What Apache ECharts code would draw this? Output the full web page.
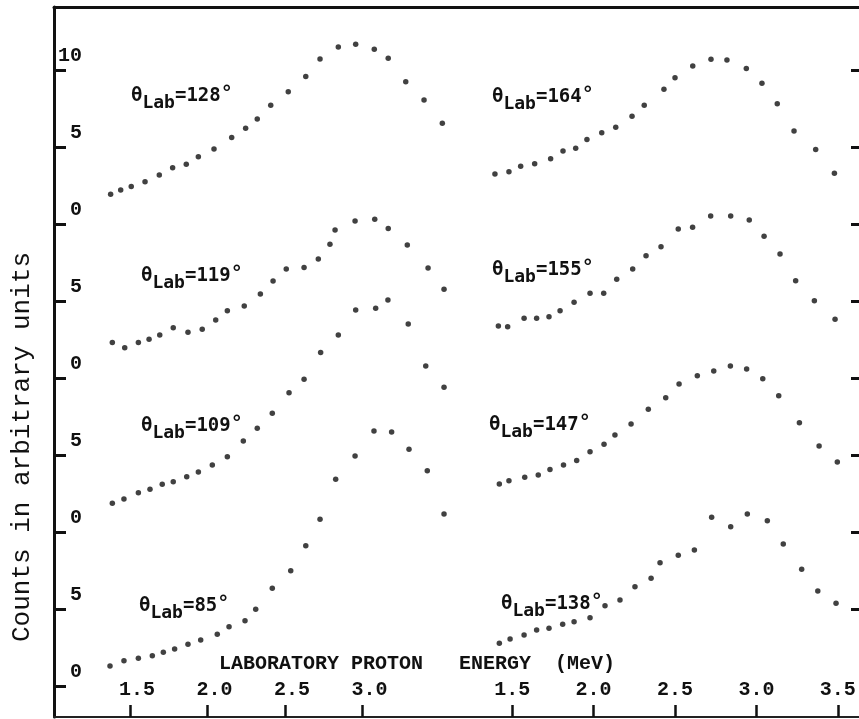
<!DOCTYPE html>
<html>
<head>
<meta charset="utf-8">
<script src="https://cdn.jsdelivr.net/npm/echarts@6/dist/echarts.min.js"></script>
<style>
  html, body { margin: 0; padding: 0; background: #ffffff; }
  #chart { width: 859px; height: 719px; }
</style>
</head>
<body>
<div id="chart"></div>
<script>
// Proton spectra: laboratory energy (MeV) and counts (arbitrary units) per angle.
const e85  = [1.371,1.461,1.554,1.644,1.715,1.788,1.874,1.956,2.063,2.139,2.242,2.311,2.418,2.537,2.634,2.726,2.827,2.952,3.074,3.188,3.300,3.418,3.526];
const c85  = [1.31,1.66,1.81,1.98,2.20,2.42,2.72,3.00,3.37,3.86,4.25,4.99,6.36,7.50,9.12,10.84,13.44,14.95,16.57,16.51,15.38,13.99,11.18];

const e109 = [1.386,1.461,1.554,1.629,1.708,1.779,1.866,1.941,2.031,2.128,2.231,2.321,2.418,2.526,2.623,2.730,2.844,2.956,3.085,3.164,3.295,3.408,3.526];
const c109 = [1.88,2.16,2.56,2.79,3.11,3.28,3.60,3.91,4.36,4.90,5.92,6.75,7.72,9.06,9.93,11.66,12.81,14.43,14.54,15.08,13.52,10.79,9.41];

const e119 = [1.386,1.466,1.554,1.623,1.692,1.779,1.874,1.966,2.053,2.128,2.237,2.341,2.423,2.508,2.623,2.715,2.790,2.823,2.952,3.079,3.166,3.289,3.423,3.526];
const c119 = [2.31,1.98,2.31,2.53,2.81,3.28,2.98,3.18,3.78,4.38,4.69,5.47,6.31,7.09,7.18,7.74,8.69,9.62,10.21,10.32,9.71,8.65,7.16,5.77];

const e128 = [1.375,1.440,1.508,1.597,1.689,1.775,1.863,1.941,2.042,2.156,2.246,2.321,2.408,2.521,2.634,2.726,2.844,2.956,3.076,3.166,3.279,3.397,3.515];
const c128 = [1.94,2.22,2.44,2.76,3.19,3.67,3.89,4.38,4.88,5.62,6.23,6.83,7.72,8.60,9.58,10.73,11.51,11.68,11.36,10.77,9.25,8.06,6.55];

const e138 = [1.421,1.487,1.573,1.650,1.726,1.810,1.880,1.978,2.070,2.162,2.254,2.353,2.408,2.520,2.619,2.725,2.842,2.944,3.067,3.165,3.278,3.377,3.489];
const c138 = [2.79,3.06,3.32,3.65,3.76,4.02,4.19,4.45,5.23,5.60,6.46,7.01,8.02,8.50,8.84,10.97,10.36,11.18,10.75,9.23,7.59,6.18,5.38];

const e147 = [1.421,1.480,1.577,1.660,1.732,1.815,1.896,1.978,2.064,2.131,2.230,2.336,2.443,2.525,2.637,2.738,2.840,2.940,3.039,3.137,3.264,3.385,3.497];
const c147 = [3.13,3.34,3.56,3.71,4.07,4.36,4.66,5.23,5.71,6.31,7.03,7.98,8.73,9.62,10.16,10.47,10.79,10.60,9.97,8.86,7.11,5.60,4.56];

const e155 = [1.415,1.472,1.573,1.650,1.726,1.794,1.880,1.978,2.062,2.142,2.240,2.322,2.414,2.520,2.608,2.719,2.842,2.956,3.047,3.145,3.241,3.356,3.483];
const c155 = [3.39,3.34,3.89,3.89,3.99,4.38,4.93,5.51,5.51,6.42,7.09,7.95,8.54,9.68,9.80,10.53,10.53,10.27,9.21,8.06,6.33,5.03,3.82];

const e164 = [1.394,1.480,1.552,1.638,1.736,1.812,1.890,1.959,2.050,2.136,2.236,2.311,2.432,2.500,2.609,2.721,2.819,2.938,3.034,3.128,3.231,3.364,3.479];
const c164 = [3.26,3.41,3.76,3.93,4.25,4.75,4.93,5.49,5.94,6.29,7.01,7.72,8.76,9.51,10.27,10.71,10.66,10.10,9.15,7.81,6.05,4.84,3.31];

// Angles shown in each column, and the zero of each spectrum on the stacked count axis.
const leftAngles  = [85, 109, 119, 128];
const rightAngles = [138, 147, 155, 164];
const baseline = { 85: 0, 109: 10, 119: 20, 128: 30, 138: 0, 147: 10, 155: 20, 164: 30 };

// Tick positions and labels.
const yTicks       = [0, 5, 10, 15, 20, 25, 30, 35, 40];
const yTickLabels  = ['0', '5', '0', '5', '0', '5', '0', '5', '10'];
const yRightTicks  = [5, 10, 15, 20, 25, 30, 35, 40];
const xTicksLeft   = [1.5, 2.0, 2.5, 3.0];
const xTicksRight  = [1.5, 2.0, 2.5, 3.0, 3.5];

const xTitle = 'LABORATORY PROTON   ENERGY  (MeV)';
const yTitle = 'Counts in arbitrary units';

const spectra = {
  85: [e85, c85], 109: [e109, c109], 119: [e119, c119], 128: [e128, c128],
  138: [e138, c138], 147: [e147, c147], 155: [e155, c155], 164: [e164, c164]
};

const INK = '#111111';
const MONO = "'Liberation Mono', 'DejaVu Sans Mono', monospace";
const LABEL_FONT = "'DejaVu Sans Mono', monospace";
const Y_MIN = -2, Y_MAX = 44.1;

function scatterFor(angle, panel) {
  const [e, c] = spectra[angle];
  return {
    type: 'scatter',
    name: 'θLab=' + angle + '°',
    xAxisIndex: panel,
    yAxisIndex: panel,
    symbol: 'circle',
    symbolSize: 5.5,
    itemStyle: { color: INK },
    data: e.map((x, i) => [x, c[i] + baseline[angle]])
  };
}

// Angle labels with subscripted "Lab" and a raised degree ring.
const angleLabelPos = {
  128: [131, 81], 119: [141, 261], 109: [141, 411], 85: [139, 591],
  164: [492, 82], 155: [492, 255], 147: [489, 410], 138: [501, 589]
};
const thetaRich = {
  th:  { fontFamily: LABEL_FONT, fontWeight: 'bold', fontSize: 19, color: INK },
  sub: { fontFamily: LABEL_FONT, fontWeight: 'bold', fontSize: 18, color: INK, padding: [15, 0, 0, 0] },
  deg: { fontFamily: LABEL_FONT, fontWeight: 'bold', fontSize: 20, color: INK, padding: [0, 0, 4, 0] }
};
const angleTitles = leftAngles.concat(rightAngles).map(a => ({
  text: '{th|θ}{sub|Lab}{th|=' + a + '}{deg|°}',
  left: angleLabelPos[a][0],
  top: angleLabelPos[a][1],
  padding: 0,
  textStyle: { lineHeight: 30, rich: thetaRich }
}));

const panelX = (ticks, grid, labelPad) => ({
  type: 'value',
  gridIndex: grid,
  position: 'bottom',
  min: 1.0,
  max: 3.6,
  axisLine: { show: false, onZero: false },
  splitLine: { show: false },
  axisTick: { show: true, inside: true, length: 12, customValues: ticks,
              lineStyle: { color: INK, width: 2.5 } },
  axisLabel: { show: true, inside: true, margin: 17, customValues: ticks,
               formatter: v => v.toFixed(1), padding: labelPad,
               fontFamily: MONO, fontWeight: 'bold', fontSize: 20, color: INK }
});

const hiddenY = grid => ({
  type: 'value', gridIndex: grid, min: Y_MIN, max: Y_MAX, show: false,
  axisLine: { onZero: false }, splitLine: { show: false }
});

const option = {
  animation: false,
  backgroundColor: '#ffffff',
  title: angleTitles.concat([{
    text: xTitle,
    left: 219,
    top: 654,
    padding: 0,
    textStyle: { fontFamily: MONO, fontWeight: 'bold', fontSize: 20, color: INK }
  }]),
  grid: [
    { left: 52.5, width: 403, top: 7, bottom: 2 },      // left column of spectra
    { left: 430.8, width: 423.3, top: 7, bottom: 2 },   // right column of spectra
    { left: 54, right: 0, top: 7, bottom: 2 }           // outer frame
  ],
  xAxis: [
    panelX(xTicksLeft, 0, [0, 0, 0, 14]),
    panelX(xTicksRight, 1, [0, 0, 0, 0]),
    { type: 'value', gridIndex: 2, position: 'bottom', min: 0, max: 1,
      axisLine: { show: true, onZero: false, lineStyle: { color: '#222', width: 2 } },
      axisTick: { show: false }, axisLabel: { show: false }, splitLine: { show: false } },
    { type: 'value', gridIndex: 2, position: 'top', min: 0, max: 1,
      axisLine: { show: true, onZero: false, lineStyle: { color: INK, width: 3 } },
      axisTick: { show: false }, axisLabel: { show: false }, splitLine: { show: false } }
  ],
  yAxis: [
    hiddenY(0),
    hiddenY(1),
    { type: 'value', gridIndex: 2, position: 'left', min: Y_MIN, max: Y_MAX,
      axisLine: { show: true, onZero: false, lineStyle: { color: INK, width: 3 } },
      axisTick: { show: true, inside: true, length: 12, customValues: yTicks,
                  lineStyle: { color: INK, width: 3 } },
      axisLabel: { show: true, inside: true, margin: 28, align: 'right',
                   verticalAlign: 'bottom', lineHeight: 28,
                   customValues: yTicks,
                   formatter: v => yTickLabels[yTicks.indexOf(Math.round(v))],
                   fontFamily: MONO, fontWeight: 'bold', fontSize: 20, color: INK },
      splitLine: { show: false } },
    { type: 'value', gridIndex: 2, position: 'right', min: Y_MIN, max: Y_MAX,
      axisLine: { show: false, onZero: false },
      axisTick: { show: true, inside: true, length: 8, customValues: yRightTicks,
                  lineStyle: { color: INK, width: 3 } },
      axisLabel: { show: false },
      splitLine: { show: false } }
  ],
  graphic: [{
    type: 'text',
    x: 22,
    y: 447,
    rotation: Math.PI / 2,
    style: {
      text: yTitle,
      fill: INK,
      font: "26px 'Liberation Mono', 'DejaVu Sans Mono', monospace",
      align: 'center',
      verticalAlign: 'middle'
    }
  }],
  series: leftAngles.map(a => scatterFor(a, 0)).concat(rightAngles.map(a => scatterFor(a, 1)))
};

const chart = echarts.init(document.getElementById('chart'), null, { renderer: 'canvas' });
chart.setOption(option);
</script>
</body>
</html>
